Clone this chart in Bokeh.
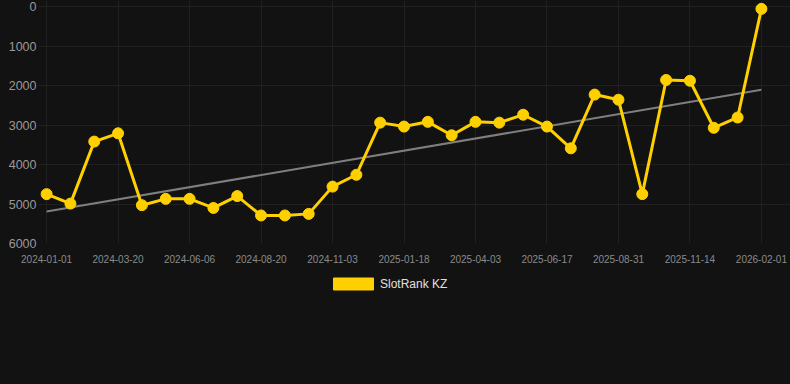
from bokeh.plotting import figure
from bokeh.layouts import column
from bokeh.models import Range1d, FixedTicker, Legend, LegendItem, ColumnDataSource
from bokeh.embed import file_html
from bokeh.resources import INLINE

# --- data -------------------------------------------------------------
tick_labels = ["2024-01-01", "2024-03-20", "2024-06-06", "2024-08-20", "2024-11-03",
               "2025-01-18", "2025-04-03", "2025-06-17", "2025-08-31", "2025-11-14",
               "2026-02-01"]
rank_values = [4750, 4990, 3420, 3210, 5030, 4870, 4870, 5100, 4800, 5290,
               5290, 5250, 4560, 4260, 2940, 3040, 2920, 3260, 2920, 2940,
               2740, 3040, 3590, 2230, 2360, 4750, 1860, 1880, 3070, 2810,
               60]
trend_values = [5190, 2110]
series_name = "SlotRank KZ"

x_idx = list(range(len(rank_values)))
tick_pos = [i * 3 for i in range(len(tick_labels))]
trend_x = [x_idx[0], x_idx[-1]]

BG = "#121212"
GOLD = "#FFD000"
NAN = float("nan")

p = figure(width=790, height=267, output_backend="svg", toolbar_location=None,
           x_range=Range1d(-0.34, 31.22), y_range=Range1d(6000, -152),
           background_fill_color=BG, border_fill_color=BG,
           min_border_left=38, min_border_right=0, min_border_top=0,
           min_border_bottom=24)
p.outline_line_color = None

p.line(trend_x, trend_values, line_color="#7f7f7f", line_width=2)
src = ColumnDataSource(dict(x=x_idx, y=rank_values))
p.line("x", "y", source=src, line_color=GOLD, line_width=3)
p.scatter("x", "y", source=src, size=11, fill_color=GOLD, line_color=GOLD)

p.xaxis.ticker = FixedTicker(ticks=tick_pos)
p.xaxis.major_label_overrides = {t: l for t, l in zip(tick_pos, tick_labels)}
p.yaxis.ticker = FixedTicker(ticks=[0, 1000, 2000, 3000, 4000, 5000, 6000])

for ax in (p.xaxis, p.yaxis):
    ax.axis_line_color = None
    ax.major_tick_line_color = None
    ax.minor_tick_line_color = None
    ax.major_tick_out = 0
    ax.major_tick_in = 0
    ax.minor_tick_out = 0
    ax.minor_tick_in = 0
    ax.major_label_text_font = "Liberation Sans"
    ax.major_label_text_color = "#8a8a8a"
p.xaxis.major_label_text_font_size = "10px"
p.xaxis.major_label_standoff = 11
p.yaxis.major_label_text_font_size = "12.5px"
p.yaxis.major_label_standoff = 2
p.yaxis.major_label_text_color = "#999999"

p.xgrid.ticker = FixedTicker(ticks=tick_pos)
p.xgrid.grid_line_color = "#202020"
p.ygrid.grid_line_color = "#202020"

# legend strip below the chart
q = figure(width=790, height=117, output_backend="svg", toolbar_location=None,
           x_axis_type=None, y_axis_type=None,
           x_range=Range1d(0, 1), y_range=Range1d(0, 1),
           background_fill_color=BG, border_fill_color=BG,
           min_border_left=38, min_border_right=0, min_border_top=0,
           min_border_bottom=0)
q.outline_line_color = None
q.grid.visible = False
leg_r = q.quad(left=[NAN], right=[NAN], top=[NAN], bottom=[NAN],
               fill_color=GOLD, line_color=GOLD)
legend = Legend(items=[LegendItem(label=series_name, renderers=[leg_r])],
                location=(290, 93), orientation="horizontal",
                background_fill_alpha=0,
                border_line_color=None, glyph_width=50, glyph_height=15,
                label_text_font="Liberation Sans", label_text_font_size="12px",
                label_text_color="#e0e0e0", padding=0, margin=0, spacing=0,
                label_standoff=2, label_height=12)
q.add_layout(legend)

layout = column(p, q, spacing=0)
html = file_html(layout, INLINE)
html = html.replace("<head>", "<head><style>html,body{background:#121212;margin:0;}</style>", 1)
open("out.html", "w").write(html)
